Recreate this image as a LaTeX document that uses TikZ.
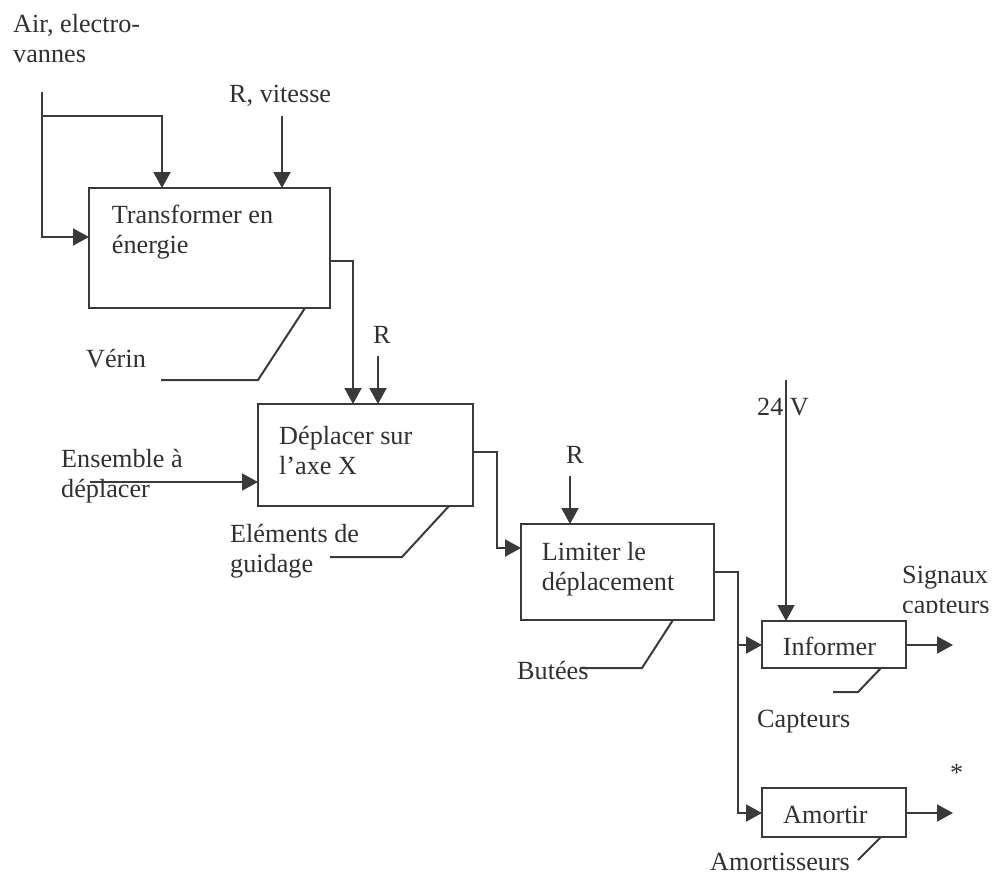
\documentclass[tikz,border=0pt]{standalone}
\usepackage{fontspec}
\setmainfont{Liberation Serif}
\usetikzlibrary{arrows.meta}
\definecolor{ink}{HTML}{3A3A3A}
\definecolor{txt}{HTML}{303030}
\begin{document}
\begin{tikzpicture}[x=1pt,y=-1pt,
  font=\fontsize{26.2}{30}\selectfont,
  box/.style={draw=ink,line width=2pt,anchor=north west,inner sep=0pt,outer sep=0pt},
  lbl/.style={anchor=base west,inner sep=0pt,text=txt},
  line/.style={draw=ink,line width=2pt},
  arr/.style={line,-{Triangle[length=16pt,width=17pt]}}]
\useasboundingbox (0,0) rectangle (994,876);
% boxes
\node[box,minimum width=241pt,minimum height=120pt] (b1) at (89,188) {};
\node[box,minimum width=215pt,minimum height=102pt] (b2) at (258,404) {};
\node[box,minimum width=193pt,minimum height=96pt] (b3) at (521,524) {};
\node[box,minimum width=144pt,minimum height=47pt] (b4) at (762,621) {};
\node[box,minimum width=144pt,minimum height=49pt] (b5) at (762,788) {};
% box texts
\node[lbl] (t1) at (111.7,223.5) {\begin{tabular}[t]{@{}l@{}}Transformer en\\énergie\end{tabular}};
\node[lbl] (t2) at (279,444.5) {\begin{tabular}[t]{@{}l@{}}Déplacer sur\\l’axe X\end{tabular}};
\node[lbl] (t3) at (541.7,560) {\begin{tabular}[t]{@{}l@{}}Limiter le\\déplacement\end{tabular}};
\node[lbl] (t4) at (782.7,655) {Informer};
\node[lbl] (t5) at (783,823) {Amortir};
% labels
\node[lbl] (air) at (13,32.5) {\begin{tabular}[t]{@{}l@{}}Air, electro-\\vannes\end{tabular}};
\node[lbl] (rvl) at (229,102.5) {R, vitesse};
\node[lbl] (verin) at (86,367) {Vérin};
\node[lbl] (r1l) at (373,343.5) {R};
\node[lbl] (ens) at (61,467.5) {\begin{tabular}[t]{@{}l@{}}Ensemble à\\déplacer\end{tabular}};
\node[lbl] (elem) at (230,542.5) {\begin{tabular}[t]{@{}l@{}}Eléments de\\guidage\end{tabular}};
\node[lbl] (r2l) at (566,463.5) {R};
\node[lbl] (but) at (517,679) {Butées};
\node[lbl] (v24l) at (757,415) {24 V};
\begin{scope}
\clip (880,540) rectangle (994,612);
\node[lbl] (sig) at (902,583) {\begin{tabular}[t]{@{}l@{}}Signaux\\capteurs\end{tabular}};
\end{scope}
\node[lbl] (capl) at (757,727) {Capteurs};
\node[lbl] (star) at (950,781) {*};
\node[lbl] (amol) at (710,870) {Amortisseurs};
% coordinates
\coordinate (airtop) at (42,92);
\coordinate (airbr) at (42,116);
\coordinate (rv) at (282,116);
\coordinate (o1) at (353,261);
\coordinate (r1) at (378,356);
\coordinate (ve1) at (258,380);
\coordinate (ve2) at (161,380);
\coordinate (ens0) at (90,482);
\coordinate (c2a) at (497,452);
\coordinate (el1) at (402,557);
\coordinate (el2) at (330,557);
\coordinate (r2) at (570,476);
\coordinate (bu1) at (642,668);
\coordinate (bu2) at (580,668);
\coordinate (c3b) at (738,813);
\coordinate (c3c) at (738,645);
\coordinate (v24) at (786,380);
\coordinate (out4) at (953,645);
\coordinate (out5) at (953,813);
\coordinate (ca1) at (858,692);
\coordinate (ca2) at (833,692);
\coordinate (am1) at (858,860);
% connectors
\draw[arr] (airtop) |- (b1.west |- 0,237);
\draw[arr] (airbr) -| (b1.north -| 162,0);
\draw[arr] (rv) -- (rv |- b1.north);
\draw[arr] (b1.east |- o1) -| (b2.north -| o1);
\draw[arr] (r1) -- (r1 |- b2.north);
\draw[line] (b1.south -| 305,0) -- (ve1) -- (ve2);
\draw[arr] (ens0) -- (b2.west |- ens0);
\draw[arr] (b2.east |- c2a) -- (c2a) |- (b3.west |- 0,548);
\draw[line] (b2.south -| 449,0) -- (el1) -- (el2);
\draw[arr] (r2) -- (r2 |- b3.north);
\draw[line] (b3.south -| 673,0) -- (bu1) -- (bu2);
\draw[arr] (b3.east) -| (c3b) -- (b5.west |- c3b);
\draw[arr] (c3c) -- (b4.west |- c3c);
\draw[arr] (v24) -- (v24 |- b4.north);
\draw[arr] (b4.east |- out4) -- (out4);
\draw[arr] (b5.east |- out5) -- (out5);
\draw[line] (b4.south -| 881,0) -- (ca1) -- (ca2);
\draw[line] (b5.south -| 881,0) -- (am1);
\end{tikzpicture}
\end{document}
